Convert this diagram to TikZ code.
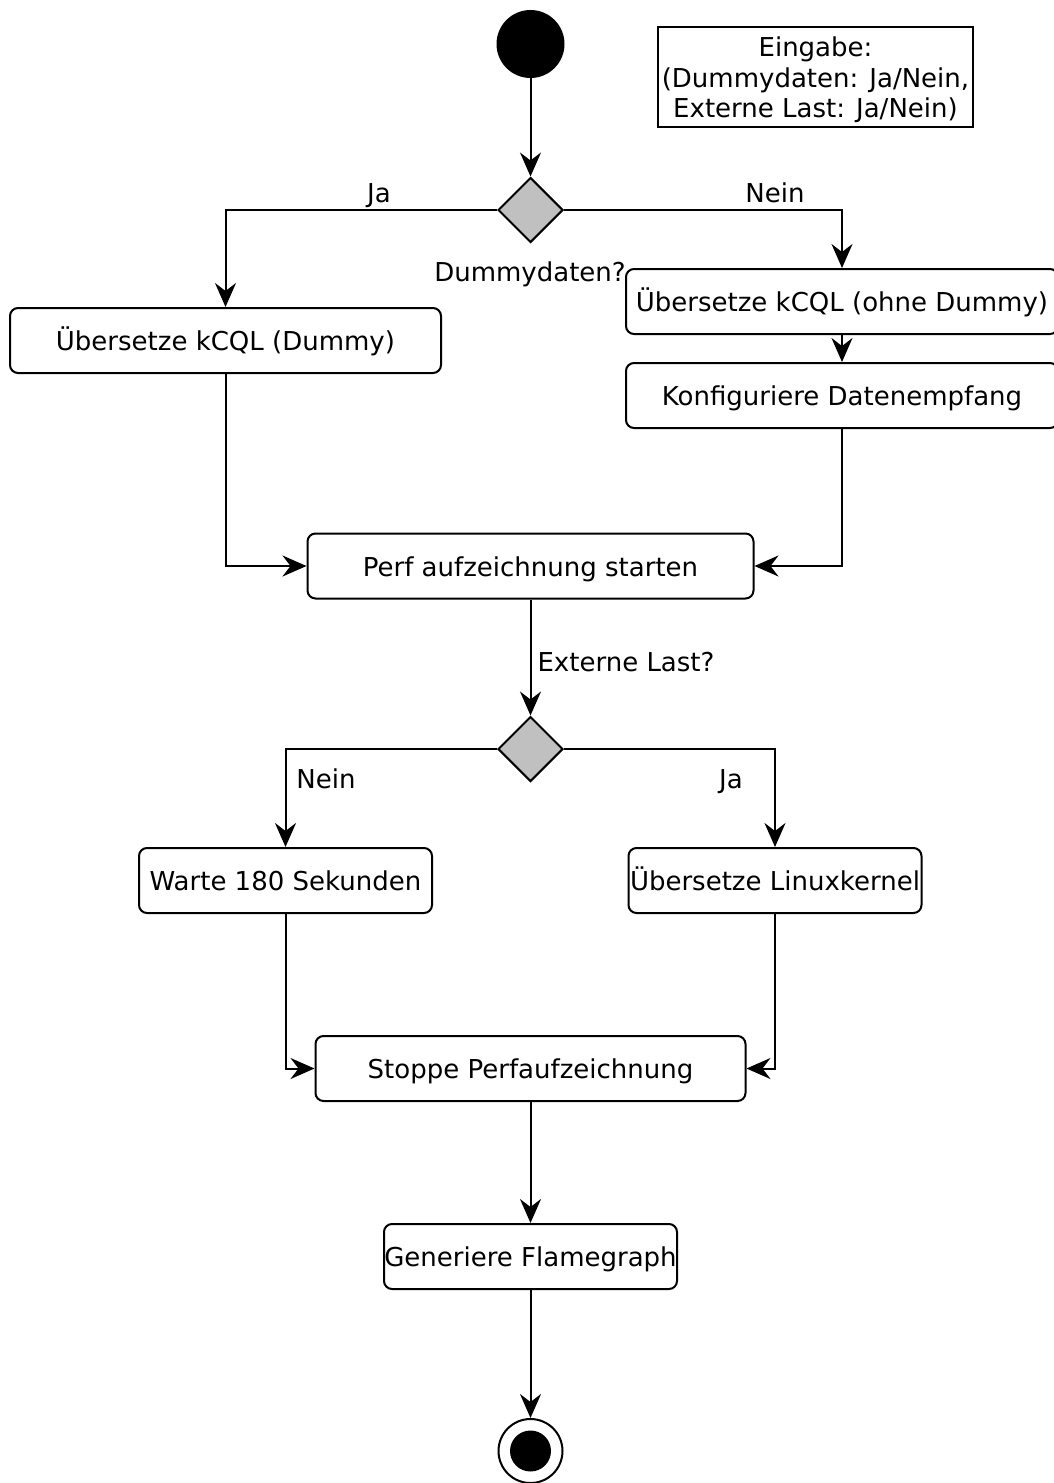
\documentclass[tikz,border=0pt]{standalone}
\usepackage{fontspec}
\setmainfont{DejaVu Sans}
\usetikzlibrary{arrows.meta,shapes.geometric}
\definecolor{decgray}{HTML}{C0C0C0}

\begin{document}
\begin{tikzpicture}[x=1pt,y=-1pt,line width=2pt,
  every node/.style={font=\fontsize{26}{30.5}\selectfont},
  oneline/.style={text height=20pt,text depth=0pt},
  act/.style={draw,rounded corners=8pt,minimum height=65pt,inner sep=0pt,oneline},
  dec/.style={draw,diamond,fill=decgray,minimum width=65pt,minimum height=65pt,inner sep=0pt},
  flow/.style={-{Stealth[length=24pt,width=21pt,inset=8pt]}},
  lbl/.style={inner sep=0pt,oneline}]
\useasboundingbox (0,0) rectangle (1054,1483);

% start and end
\node[circle,fill=black,draw,minimum size=66pt,inner sep=0pt] (start) at (530.5,44) {};
\node[circle,draw,minimum size=64pt,inner sep=0pt] (end) at (530.5,1451) {};
\node[circle,fill=black,minimum size=41pt,inner sep=0pt] (endin) at (530.5,1451) {};

% input note
\node[draw,minimum width=315pt,minimum height=100pt,inner sep=0pt] (input) at (815.5,77) {};
\node[align=center,inner sep=0pt] (inputtext) at (815.5,80)
  {Eingabe:\\(Dummydaten: Ja/Nein,\\Externe Last: Ja/Nein)};

% decisions
\node[dec] (d1) at (530.5,210) {};
\node[dec] (d2) at (530.5,749) {};

% actions
\node[act,minimum width=431pt] (a) at (225.5,340.5) {Übersetze kCQL (Dummy)};
\node[act,minimum width=432pt] (b) at (842,301.5) {Übersetze kCQL (ohne Dummy)};
\node[act,minimum width=432pt] (c) at (842,395.5) {Konfiguriere Datenempfang};
\node[act,minimum width=446pt] (d) at (530.5,566) {Perf aufzeichnung starten};
\node[act,minimum width=293pt] (e) at (285.5,880.5) {Warte 180 Sekunden};
\node[act,minimum width=293pt] (f) at (775,880.5) {Übersetze Linuxkernel};
\node[act,minimum width=430pt] (g) at (530.5,1068.5) {Stoppe Perfaufzeichnung};
\node[act,minimum width=293pt] (h) at (530.5,1256.5) {Generiere Flamegraph};

% labels
\node[lbl] (lja1) at (379,192) {Ja};
\node[lbl] (lnein1) at (775,192) {Nein};
\node[lbl] (ldummy) at (530,271) {Dummydaten?};
\node[lbl] (lext) at (626,661) {Externe Last?};
\node[lbl] (lnein2) at (326,778) {Nein};
\node[lbl] (lja2) at (731,778) {Ja};

% connectors
\draw[flow] (start) -- (d1);
\draw[flow] (d1.west) -| (a.north);
\draw[flow] (d1.east) -| (b.north);
\draw[flow] (b) -- (c);
\draw[flow] (a.south) |- (d.west);
\draw[flow] (c.south) |- (d.east);
\draw[flow] (d) -- (d2);
\draw[flow] (d2.west) -| (e.north);
\draw[flow] (d2.east) -| (f.north);
\draw[flow] (e.south) |- (g.west);
\draw[flow] (f.south) |- (g.east);
\draw[flow] (g) -- (h);
\draw[flow] (h) -- (end);
\end{tikzpicture}
\end{document}
